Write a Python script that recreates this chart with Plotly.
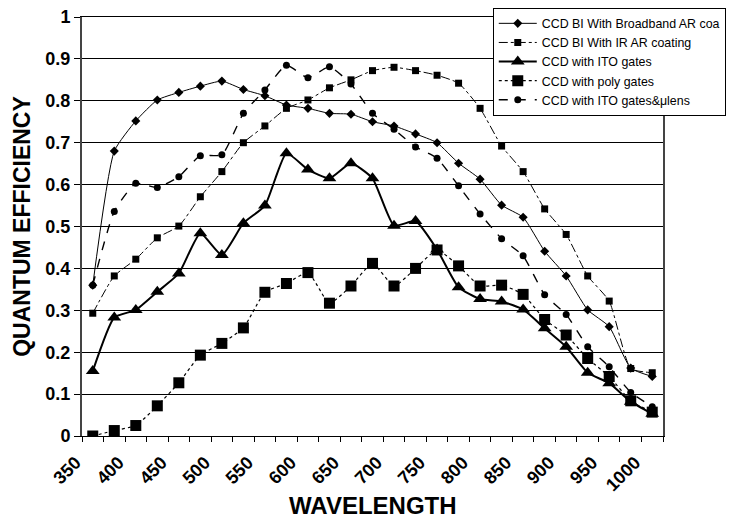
import plotly.graph_objects as go

wavelength = [350, 375, 400, 425, 450, 475, 500, 525, 550, 575, 600, 625, 650, 675,
              700, 725, 750, 775, 800, 825, 850, 875, 900, 925, 950, 975, 1000]

bi_broadband = [0.36, 0.68, 0.752, 0.802, 0.82, 0.835, 0.847, 0.827, 0.812, 0.79, 0.782,
                0.770, 0.768, 0.750, 0.740, 0.721, 0.700, 0.651, 0.613, 0.551, 0.522,
                0.441, 0.382, 0.301, 0.261, 0.162, 0.142]
bi_ir = [0.293, 0.382, 0.422, 0.473, 0.501, 0.571, 0.631, 0.700, 0.740, 0.782, 0.802,
         0.831, 0.850, 0.872, 0.880, 0.872, 0.861, 0.842, 0.782, 0.692, 0.631, 0.542,
         0.481, 0.382, 0.322, 0.161, 0.151]
ito_gates = [0.155, 0.283, 0.301, 0.344, 0.388, 0.484, 0.432, 0.508, 0.550, 0.675, 0.636,
             0.615, 0.651, 0.615, 0.502, 0.513, 0.445, 0.355, 0.327, 0.321, 0.302,
             0.257, 0.213, 0.151, 0.126, 0.082, 0.053]
poly_gates = [0.0, 0.013, 0.025, 0.072, 0.127, 0.193, 0.221, 0.258, 0.343, 0.364, 0.390,
              0.317, 0.358, 0.412, 0.358, 0.400, 0.444, 0.406, 0.358, 0.360, 0.338,
              0.278, 0.241, 0.185, 0.142, 0.084, 0.057]
ito_ulens = [0.36, 0.536, 0.603, 0.593, 0.619, 0.669, 0.671, 0.770, 0.826, 0.885, 0.855,
             0.881, 0.840, 0.770, 0.732, 0.690, 0.663, 0.597, 0.530, 0.471, 0.430,
             0.337, 0.290, 0.213, 0.165, 0.104, 0.070]

names = ["CCD BI With Broadband AR coa", "CCD BI With IR AR coating", "CCD with ITO gates",
         "CCD with poly gates", "CCD with ITO gates&\u03bclens"]
tick_labels = [str(v) for v in range(350, 1001, 50)]
y_ticks = [0, 0.1, 0.2, 0.3, 0.4, 0.5, 0.6, 0.7, 0.8, 0.9, 1]
y_tick_labels = ["0", "0.1", "0.2", "0.3", "0.4", "0.5", "0.6", "0.7", "0.8", "0.9", "1"]

FONT = "Arial, Liberation Sans, sans-serif"

fig = go.Figure()
styles = [
    (bi_broadband, dict(color="black", width=1, dash="solid"), dict(symbol="diamond", size=7)),
    (bi_ir, dict(color="black", width=1, dash="dashdot"), dict(symbol="square", size=7)),
    (ito_gates, dict(color="black", width=2, dash="solid"), dict(symbol="triangle-up", size=12)),
    (poly_gates, dict(color="black", width=1.2, dash="dot"), dict(symbol="square", size=11)),
    (ito_ulens, dict(color="black", width=1.4, dash="dash"), dict(symbol="circle", size=7)),
]
for name, (vals, line, marker) in zip(names, styles):
    line = dict(line, shape="spline", smoothing=0.5)
    fig.add_trace(go.Scatter(x=wavelength, y=vals, name=name, mode="lines+markers",
                             line=line, marker=dict(marker, color="black")))

fig.update_layout(
    width=733, height=527,
    margin=dict(l=82, r=70, t=17, b=91, autoexpand=False),
    paper_bgcolor="white", plot_bgcolor="white",
    font=dict(family=FONT, color="black"),
    legend=dict(x=0.707, y=1.022, xanchor="left", yanchor="top",
                bgcolor="white", bordercolor="black", borderwidth=1,
                font=dict(size=12.4, family=FONT), tracegroupgap=0, itemwidth=38),
    showlegend=True,
    annotations=[dict(text="<b>WAVELENGTH</b>", xref="paper", yref="paper",
                      x=0.5, y=-0.165, xanchor="center", yanchor="middle",
                      showarrow=False, font=dict(size=24, family=FONT))],
)
fig.update_xaxes(
    range=[337.5, 1012.5], tickmode="array", automargin=False,
    tickvals=list(range(350, 1001, 50)), ticktext=tick_labels,
    ticks="", tickangle=-45, ticklabelstandoff=8, ticklabelshift=-17,
    tickfont=dict(size=18, family=FONT, weight="bold"),
    showgrid=False, zeroline=False,
    showline=True, linecolor="black", linewidth=1, mirror=True,
    minor=dict(tickmode="linear", tick0=337.5, dtick=25, ticks="outside",
               ticklen=5, tickcolor="black", tickwidth=1, showgrid=False),
)
fig.update_yaxes(
    range=[0, 1], tickmode="array", tickvals=y_ticks, ticktext=y_tick_labels,
    automargin=False,
    ticks="outside", ticklen=6, tickcolor="black",
    tickfont=dict(size=18, family=FONT, weight="bold"),
    showgrid=True, gridcolor="black", gridwidth=1, zeroline=False,
    showline=True, linecolor="#444", linewidth=2, mirror=True,
    title=dict(text="QUANTUM EFFICIENCY", font=dict(size=23, family=FONT, weight="bold"), standoff=8),
)

fig.write_html("out.html")
